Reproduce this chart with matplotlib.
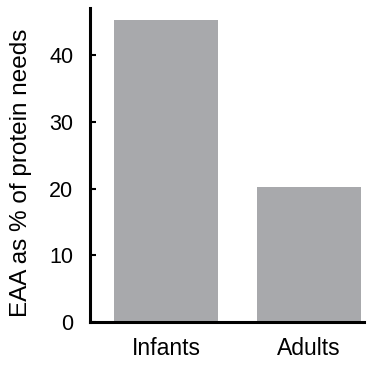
import matplotlib
matplotlib.use("Agg")
import matplotlib.pyplot as plt

categories = ["Infants", "Adults"]
values = [45.3, 20.2]
yticks = [0, 10, 20, 30, 40]
ylabel = "EAA as % of protein needs"

plt.rcParams['font.family'] = ['Liberation Sans', 'DejaVu Sans']

fig = plt.figure(figsize=(3.76, 3.66), dpi=100)
ax = fig.add_axes([90/376, 44/366, 274/376, 314/366])

x = list(range(len(categories)))
ax.bar(x, values, width=0.727, color='#a8a9ac', zorder=1)
ax.set_xlim(-0.531, 1.385)
ax.set_ylim(0, 47.1)
ax.set_xticks(x)
ax.set_xticklabels(categories, fontsize=16.5)
ax.set_yticks(yticks)
ax.tick_params(axis='y', direction='in', length=4, width=1.5, labelsize=15.5, pad=12)
ax.tick_params(axis='x', length=0, pad=11)
for s in ['top', 'right']:
    ax.spines[s].set_visible(False)
for s in ['left', 'bottom']:
    ax.spines[s].set_linewidth(2.2)
    ax.spines[s].set_zorder(3)
ax.set_ylabel(ylabel, fontsize=17.5)
ax.yaxis.set_label_coords(-0.21, 0.476)

fig.savefig("out.png", dpi=100)
